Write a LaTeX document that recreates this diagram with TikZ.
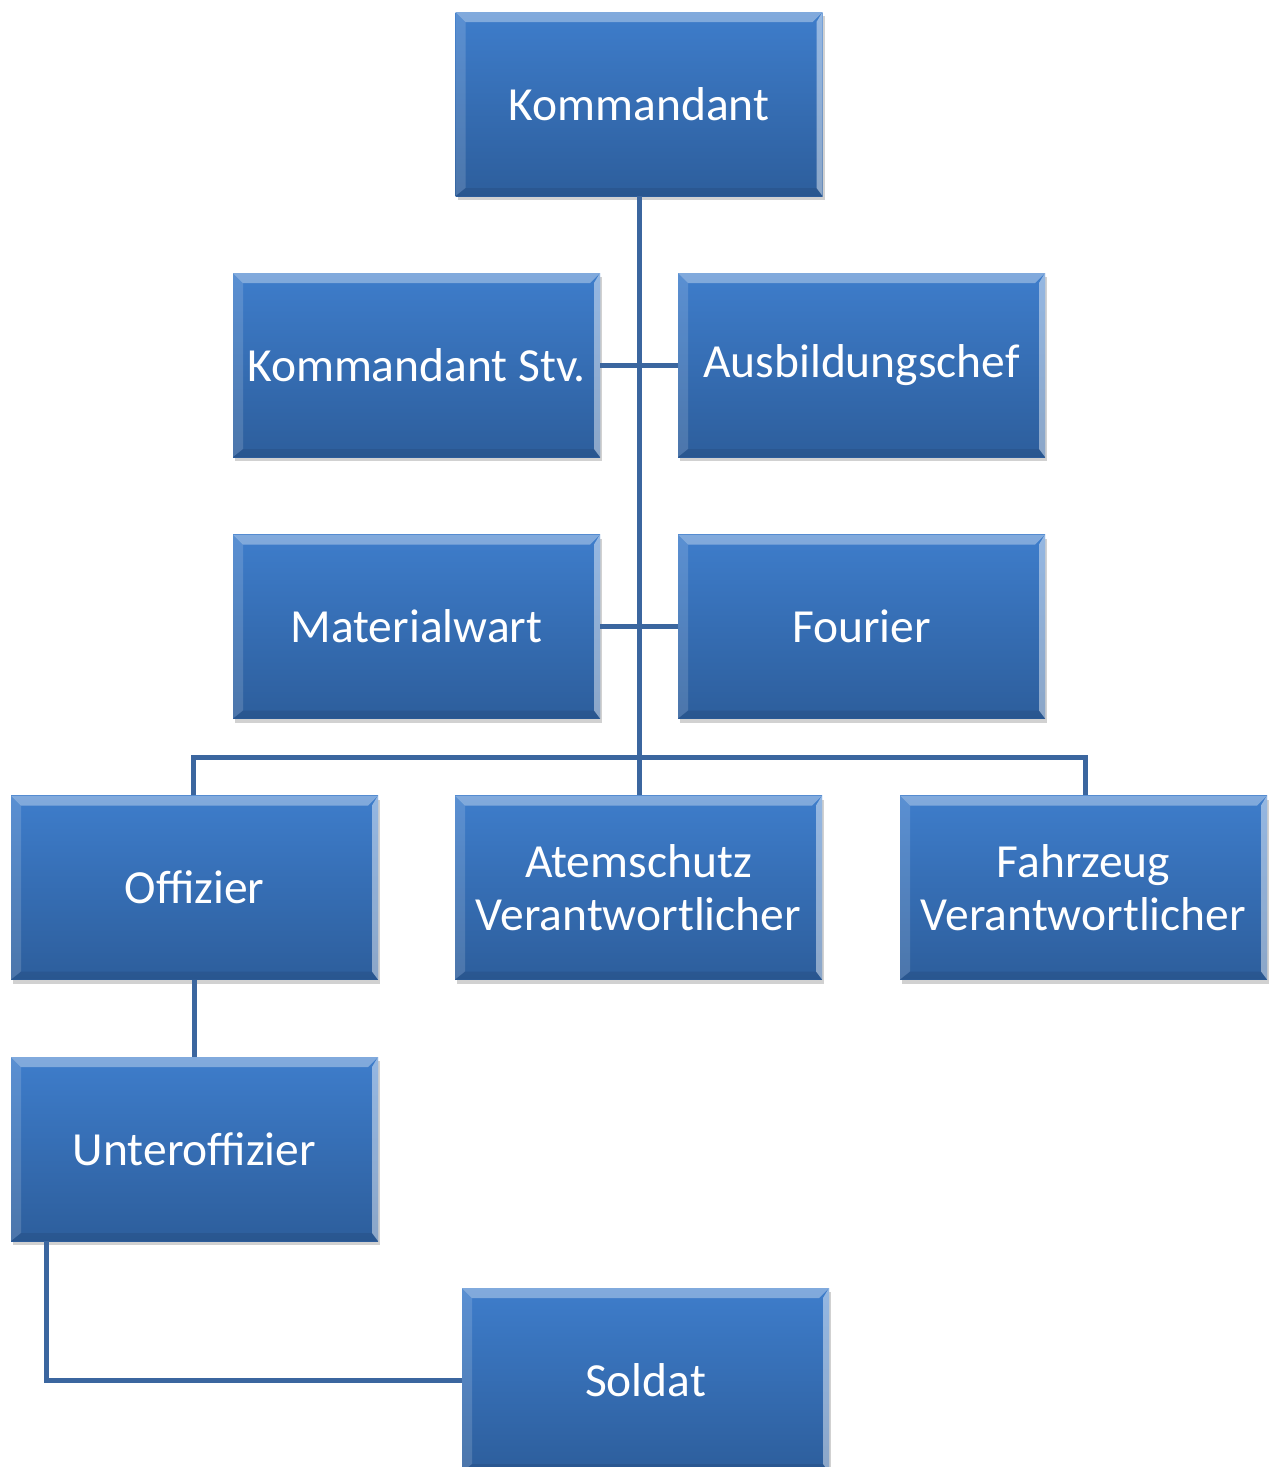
\documentclass[tikz,border=0pt]{standalone}
\usepackage{fontspec}
\setmainfont{Carlito}
\usetikzlibrary{shadows}
\definecolor{boxtop}{HTML}{3E7DCB}
\definecolor{boxbot}{HTML}{2D5E9C}
\definecolor{linecol}{HTML}{3B669F}
\tikzset{
  orgbox/.style={rectangle, minimum width=367pt, minimum height=184pt, inner sep=0pt,
    top color=boxtop, bottom color=boxbot, text=white, align=center,
    font=\fontsize{47.5}{53}\selectfont,
    drop shadow={shadow xshift=2pt, shadow yshift=-4pt, opacity=0.3, fill=black!60},
    path picture={
      \fill[white, opacity=0.35] (path picture bounding box.north west) -- (path picture bounding box.north east)
        -- ([xshift=-10pt,yshift=-10pt]path picture bounding box.north east) -- ([xshift=10pt,yshift=-10pt]path picture bounding box.north west) -- cycle;
      \fill[white, opacity=0.15] (path picture bounding box.north west) -- ([xshift=10pt,yshift=-10pt]path picture bounding box.north west)
        -- ([xshift=10pt,yshift=8pt]path picture bounding box.south west) -- (path picture bounding box.south west) -- cycle;
      \fill[white, opacity=0.45] (path picture bounding box.north east) -- ([xshift=-6pt,yshift=-10pt]path picture bounding box.north east)
        -- ([xshift=-6pt,yshift=8pt]path picture bounding box.south east) -- (path picture bounding box.south east) -- cycle;
      \fill[black, opacity=0.08] (path picture bounding box.south west) -- ([xshift=10pt,yshift=8pt]path picture bounding box.south west)
        -- ([xshift=-6pt,yshift=8pt]path picture bounding box.south east) -- (path picture bounding box.south east) -- cycle;
    }},
  conn/.style={draw=linecol, line width=5pt}
}
\begin{document}
\begin{tikzpicture}[x=1pt,y=-1pt]
\useasboundingbox (0,0) rectangle (1275,1467);
\clip (0,0) rectangle (1275,1467);
\node[orgbox] (kom) at (639,104) {Kommandant};
\node[orgbox] (stv) at (416.5,365) {Kommandant Stv.};
\node[orgbox] (aus) at (861.5,365) {Ausbildungschef};
\node[orgbox] (mat) at (416.5,626.5) {Materialwart};
\node[orgbox] (fou) at (861.5,626.5) {Fourier};
\node[orgbox] (off) at (194.5,887.5) {Offizier};
\node[orgbox] (atem) at (638.5,887.5) {Atemschutz\\Verantwortlicher};
\node[orgbox] (fahr) at (1083.5,887.5) {Fahrzeug\\Verantwortlicher};
\node[orgbox] (unt) at (194.5,1149) {Unteroffizier};
\node[orgbox] (sol) at (645.5,1380) {Soldat};
\coordinate (jv) at (639,757);
\coordinate (jl) at (193,757);
\coordinate (jr) at (1085,757);
\draw[conn] (kom.south -| jv) -- (atem.north -| jv);
\draw[conn] (stv.east) -- (aus.west);
\draw[conn] (mat.east) -- (fou.west);
\draw[conn] (jl |- off.north) -- (jl) -- (jr) -- (jr |- fahr.north);
\draw[conn] (off.south) -- (unt.north);
\draw[conn] ([xshift=-148pt]unt.south) |- (sol.west);
\end{tikzpicture}
\end{document}
